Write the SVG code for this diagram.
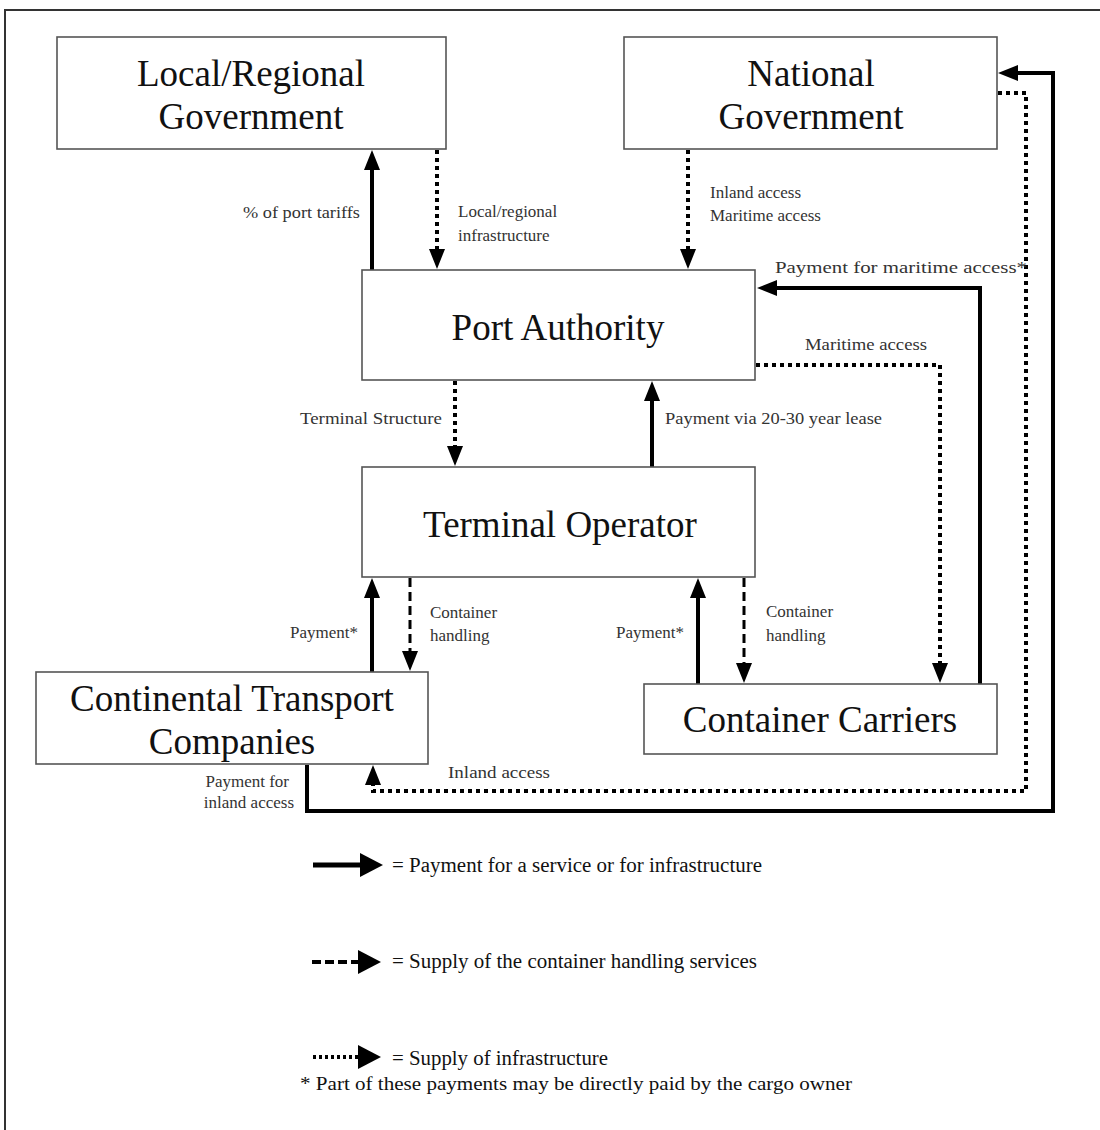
<svg xmlns="http://www.w3.org/2000/svg" width="1100" height="1130" viewBox="0 0 1100 1130">
<style>
.box{fill:#fff;stroke:#555;stroke-width:1.6}
.title{font-family:"Liberation Serif","Times New Roman",serif;font-size:37px;fill:#111;text-anchor:middle}
.lbl{font-family:"Liberation Serif","Times New Roman",serif;font-size:17px;fill:#333}
.leg{font-family:"Liberation Serif","Times New Roman",serif;font-size:20px;fill:#111}
.solid{fill:none;stroke:#000;stroke-width:4}
.dot{fill:none;stroke:#000;stroke-width:4;stroke-dasharray:4 4}
.dash{fill:none;stroke:#000;stroke-width:3;stroke-dasharray:9 5}
</style>
<defs>
<marker id="ah" markerUnits="userSpaceOnUse" markerWidth="22" markerHeight="18" viewBox="0 -9 22 18" refX="0" refY="0" orient="auto">
<path d="M0,-8 L20,0 L0,8 Z" fill="#000"/>
</marker>
<marker id="ahL" markerUnits="userSpaceOnUse" markerWidth="26" markerHeight="28" viewBox="0 -13 26 26" refX="0" refY="0" orient="auto">
<path d="M0,-12 L23,0 L0,12 Z" fill="#000"/>
</marker>
</defs>
<rect width="1100" height="1130" fill="#fff"/>
<path d="M5,1130 V10 H1100" fill="none" stroke="#333" stroke-width="2"/>

<g id="connectors">
<path class="solid" d="M372,270 V170" marker-end="url(#ah)"/>
<path class="dot" d="M437,150 V249" marker-end="url(#ah)"/>
<path class="dot" d="M688,150 V249" marker-end="url(#ah)"/>
<path class="solid" d="M980,684 V288 H777" marker-end="url(#ah)"/>
<path class="dot" d="M756,365 H940 V663" marker-end="url(#ah)"/>
<path class="solid" d="M307,765 V811 H1053 V73 H1018" marker-end="url(#ah)"/>
<path class="dot" d="M998,93 H1026 V791 H373 V785" marker-end="url(#ah)"/>
<path class="dot" d="M455,381 V446" marker-end="url(#ah)"/>
<path class="solid" d="M652,467 V401" marker-end="url(#ah)"/>
<path class="solid" d="M372,672 V598" marker-end="url(#ah)"/>
<path class="dash" d="M410,578 V651" marker-end="url(#ah)"/>
<path class="solid" d="M698,684 V598" marker-end="url(#ah)"/>
<path class="dash" d="M744,578 V663" marker-end="url(#ah)"/>
</g>

<g id="local-gov">
<rect class="box" x="57" y="37" width="389" height="112"/>
<text class="title" x="251" y="86">Local/Regional</text>
<text class="title" x="251" y="129">Government</text>
</g>
<g id="national-gov">
<rect class="box" x="624" y="37" width="373" height="112"/>
<text class="title" x="811" y="86">National</text>
<text class="title" x="811" y="129">Government</text>
</g>
<g id="port-authority">
<rect class="box" x="362" y="270" width="393" height="110"/>
<text class="title" x="558" y="340">Port Authority</text>
</g>
<g id="terminal-operator">
<rect class="box" x="362" y="467" width="393" height="110"/>
<text class="title" x="560" y="537">Terminal Operator</text>
</g>
<g id="continental">
<rect class="box" x="36" y="672" width="392" height="92"/>
<text class="title" x="232" y="711">Continental Transport</text>
<text class="title" x="232" y="754">Companies</text>
</g>
<g id="container-carriers">
<rect class="box" x="644" y="684" width="353" height="70"/>
<text class="title" x="820" y="732">Container Carriers</text>
</g>

<g id="labels">
<text class="lbl" x="360" y="218" text-anchor="end" textLength="117" lengthAdjust="spacingAndGlyphs">% of port tariffs</text>
<text class="lbl" x="458" y="217">Local/regional</text>
<text class="lbl" x="458" y="241">infrastructure</text>
<text class="lbl" x="710" y="198">Inland access</text>
<text class="lbl" x="710" y="221">Maritime access</text>
<text class="lbl" x="775" y="273" textLength="252" lengthAdjust="spacingAndGlyphs">Payment for maritime access*</text>
<text class="lbl" x="805" y="350" textLength="122" lengthAdjust="spacingAndGlyphs">Maritime access</text>
<text class="lbl" x="442" y="424" text-anchor="end" textLength="142" lengthAdjust="spacingAndGlyphs">Terminal Structure</text>
<text class="lbl" x="665" y="424" textLength="217" lengthAdjust="spacingAndGlyphs">Payment via 20-30 year lease</text>
<text class="lbl" x="358" y="638" text-anchor="end">Payment*</text>
<text class="lbl" x="430" y="618">Container</text>
<text class="lbl" x="430" y="641">handling</text>
<text class="lbl" x="684" y="638" text-anchor="end">Payment*</text>
<text class="lbl" x="766" y="617">Container</text>
<text class="lbl" x="766" y="641">handling</text>
<text class="lbl" x="289" y="787" text-anchor="end">Payment for</text>
<text class="lbl" x="294" y="808" text-anchor="end">inland access</text>
<text class="lbl" x="448" y="778" textLength="102" lengthAdjust="spacingAndGlyphs">Inland access</text>
</g>

<g id="legend">
<path d="M313,865 H360" fill="none" stroke="#000" stroke-width="5" marker-end="url(#ahL)"/>
<text class="leg" x="392" y="872" textLength="370" lengthAdjust="spacingAndGlyphs">= Payment for a service or for infrastructure</text>
<path d="M312,962 H358" fill="none" stroke="#000" stroke-width="4" stroke-dasharray="9 4" marker-end="url(#ahL)"/>
<text class="leg" x="392" y="968" textLength="365" lengthAdjust="spacingAndGlyphs">= Supply of the container handling services</text>
<path d="M313,1057 H358" fill="none" stroke="#000" stroke-width="4" stroke-dasharray="3 3" marker-end="url(#ahL)"/>
<text class="leg" x="392" y="1065" textLength="216" lengthAdjust="spacingAndGlyphs">= Supply of infrastructure</text>
<text class="leg" x="300" y="1090" style="font-size:18px" textLength="552" lengthAdjust="spacingAndGlyphs">* Part of these payments may be directly paid by the cargo owner</text>
</g>
</svg>
